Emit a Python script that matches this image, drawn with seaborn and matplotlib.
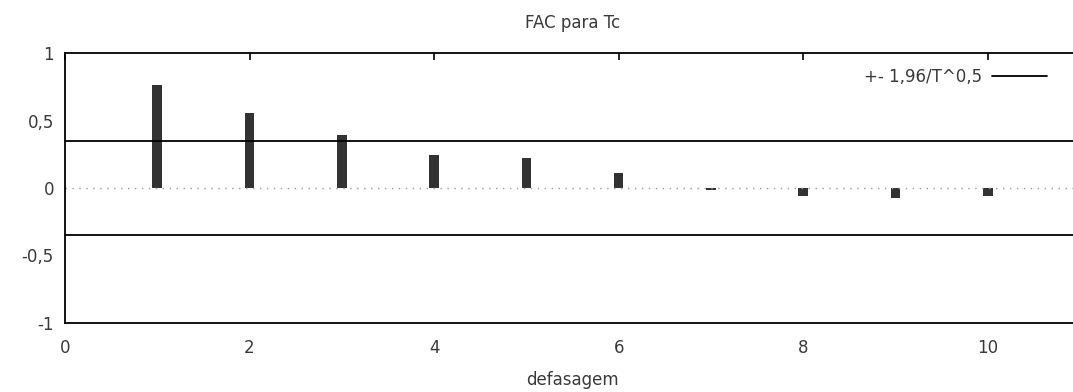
import matplotlib
matplotlib.use("Agg")
import matplotlib.pyplot as plt
import seaborn as sns
import pandas as pd
from matplotlib.ticker import FuncFormatter

# Data
lags = [1, 2, 3, 4, 5, 6, 7, 8, 9, 10]
acf = [0.765, 0.555, 0.39, 0.245, 0.22, 0.114, -0.015, -0.057, -0.077, -0.057]
band = 0.35
band_label = "+- 1,96/T^0,5"
title = "FAC para Tc"
xlabel = "defasagem"
xticks = [0, 2, 4, 6, 8, 10]
yticks = [-1, -0.5, 0, 0.5, 1]

sns.set_theme(style="white")
plt.rcParams['font.family'] = ['DejaVu Sans']
text_color = "#3a3a3a"

W, H = 1073, 392
fig = plt.figure(figsize=(W / 100, H / 100), dpi=100)
ax = fig.add_axes([65 / W, (H - 322.5) / H, (1080 - 65) / W, (322.5 - 53.3) / H])

df = pd.DataFrame({"lag": lags, "acf": acf})
sns.barplot(data=df, x="lag", y="acf", native_scale=True, width=0.105,
            color="#333333", saturation=1, edgecolor="none", linewidth=0, ax=ax)

ax.axhline(0, color="#9a9a9a", lw=1.0, ls=(0, (1, 4)), zorder=1)
ax.axhline(band, color="black", lw=1.3, label=band_label, zorder=3)
ax.axhline(-band, color="black", lw=1.3, zorder=3)

ax.set_xlim(0, 11)
ax.set_ylim(-1, 1)
ax.set_xticks(xticks)
ax.set_yticks(yticks)

fmt = FuncFormatter(lambda v, p: (f"{v:g}").replace(".", ","))
ax.xaxis.set_major_formatter(fmt)
ax.yaxis.set_major_formatter(fmt)

ax.tick_params(axis="both", direction="in", length=5, width=1.2, color="black",
               labelsize=12, labelcolor=text_color, top=True, right=True)
ax.tick_params(axis="x", pad=12)
ax.tick_params(axis="y", pad=8)

for s in ax.spines.values():
    s.set_visible(True)
    s.set_color("black")
    s.set_linewidth(1.3)

ax.set_xlabel(xlabel, fontsize=12, color=text_color, labelpad=10)
ax.set_ylabel("")
ax.set_title(title, fontsize=12, color=text_color, pad=18)

leg = ax.legend(loc="upper right", bbox_to_anchor=(1055 / W, 1 - 60 / H),
                bbox_transform=fig.transFigure, frameon=False, markerfirst=False,
                fontsize=12, handlelength=3.3, handletextpad=0.6, borderpad=0)
for t in leg.get_texts():
    t.set_color(text_color)

fig.savefig("out.png", dpi=100)
